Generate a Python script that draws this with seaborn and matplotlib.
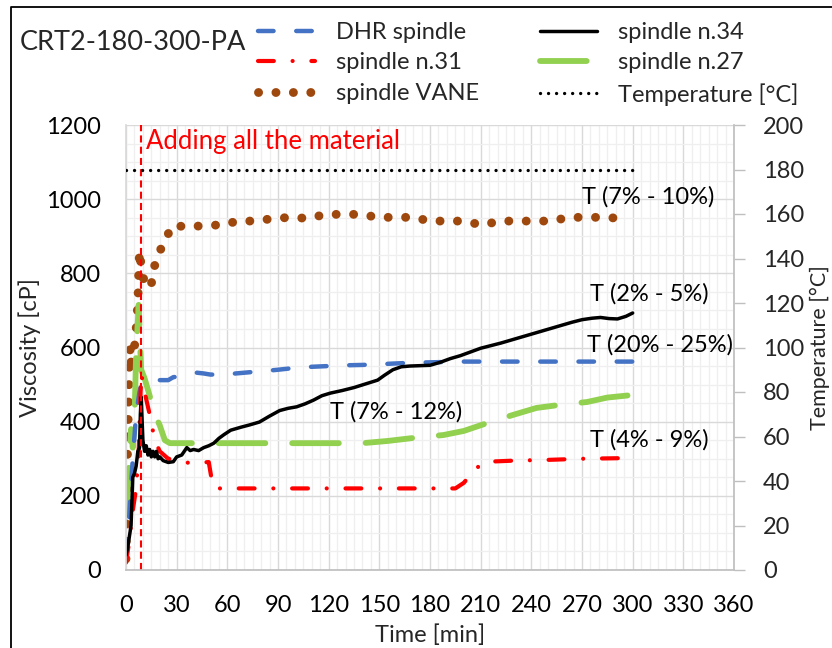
import numpy as np
import pandas as pd
import matplotlib
matplotlib.use("Agg")
import matplotlib.pyplot as plt
from matplotlib.lines import Line2D
from matplotlib.ticker import MultipleLocator
import seaborn as sns

# ---------------- data ----------------
dhr_t = [0, 2, 4, 6, 8, 9, 10, 12, 15, 20, 25, 28, 32, 38, 42, 46, 50, 55, 60, 70, 80, 90,
         100, 110, 120, 130, 140, 150, 160, 170, 180, 190, 200, 220, 240, 260, 280, 300]
dhr_v = [40, 150, 300, 420, 480, 500, 505, 505, 508, 512, 512, 520, 522, 528, 532, 530, 527,
         527, 528, 532, 536, 540, 545, 548, 550, 552, 553, 555, 557, 559, 560, 561, 562, 562,
         562, 562, 562, 562]

s34_t = [0, 1, 2, 3, 4, 5, 6, 7, 8, 8.5, 9, 10, 11, 12, 13, 14, 15, 16, 17, 18, 19, 20, 22,
         25, 28, 30, 33, 36, 38, 40, 43, 46, 49, 52, 55, 58, 62, 68, 73, 79, 85, 91, 96, 101,
         106, 111, 116, 121, 128, 135, 142, 149, 153, 158, 163, 168, 174, 180, 186, 192, 198,
         204, 210, 216, 222, 228, 234, 240, 246, 252, 258, 264, 270, 276, 281, 286, 291, 296, 300]
s34_v = [40, 60, 90, 120, 250, 260, 280, 320, 330, 420, 466, 350, 320, 335, 310, 325, 305,
         320, 305, 320, 300, 305, 295, 290, 292, 305, 310, 330, 322, 325, 322, 330, 335, 342,
         355, 365, 377, 385, 391, 399, 415, 430, 436, 440, 448, 458, 470, 477, 484, 492, 502,
         512, 525, 540, 548, 550, 551, 552, 560, 570, 578, 588, 598, 605, 612, 620, 628, 636,
         644, 652, 660, 668, 675, 679, 681, 678, 677, 684, 693]

s31_t = [0, 2, 4, 6, 7.5, 9, 11, 14, 17, 20, 25, 30, 38, 45, 49, 50.5, 52, 55, 100, 150, 195,
         200, 205, 210, 214, 230, 250, 270, 285, 300]
s31_v = [20, 80, 160, 220, 320, 530, 480, 420, 350, 320, 300, 296, 288, 290, 291, 250, 222,
         220, 220, 220, 220, 235, 262, 285, 292, 295, 297, 300, 301, 302]

s27_t = [0, 1, 2, 3, 4, 5, 6, 7.5, 8.5, 9, 11, 14, 17, 20, 23, 26, 60, 100, 140, 155, 170,
         188, 200, 215, 229, 243, 258, 273, 285, 300]
s27_v = [150, 220, 300, 380, 330, 400, 585, 715, 590, 540, 517, 470, 420, 390, 350, 342, 342,
         342, 342, 348, 356, 364, 375, 398, 418, 437, 446, 453, 465, 472]

vane_t = [0, 0.5, 1, 1.5, 2, 2.5, 3, 4, 5, 6, 7, 7.5, 8, 9, 10, 11, 13, 15, 16, 19.5, 23.5,
          28, 37, 47, 57, 66, 77, 87, 98, 108, 118, 128, 139, 149, 160, 170, 180, 190, 200,
          211, 221, 241, 252, 262, 273, 283, 294]
vane_v = [30, 200, 350, 450, 550, 600, 560, 580, 600, 650, 720, 800, 860, 820, 800, 765, 763,
          770, 808, 854, 895, 930, 924, 930, 930, 941, 941, 948, 951, 948, 959, 959, 959, 951,
          951, 951, 941, 941, 941, 930, 941, 941, 941, 951, 951, 951, 948]

temp_t = [0, 300]
temp_v = [180, 180]

add_time = 9
annotations = [("T (7% - 10%)", 270, 1005),
               ("T (2% - 5%)", 274.5, 744),
               ("T (20% - 25%)", 273, 606),
               ("T (7% - 12%)", 120.5, 426),
               ("T (4% - 9%)", 274.5, 350)]

x_ticks = list(range(0, 361, 30))

# ---------------- style ----------------
sns.set_theme(style="white")
plt.rcParams['font.family'] = ['Lato', 'DejaVu Sans']
FS = 17

C_BLUE = "#4472C4"
C_RED = "#FF0000"
C_GREEN = "#92D050"
C_BROWN = "#9E480E"
C_BLACK = "#000000"

st_blue = dict(color=C_BLUE, lw=3.2, ls=(0, (3.5, 5.1)), dash_capstyle='round')
st_red = dict(color=C_RED, lw=3.0, ls=(0, (3.8, 4.5, 0.01, 4.5)), dash_capstyle='round')
st_green = dict(color=C_GREEN, lw=4.2, ls=(0, (8.0, 4.6)), dash_capstyle='round')
st_black = dict(color=C_BLACK, lw=2.5, ls='-', solid_capstyle='round')
st_brown = dict(color=C_BROWN, lw=6.4, ls=(0, (0.01, 1.95)), dash_capstyle='round')
st_temp = dict(color=C_BLACK, lw=2.4, ls=(0, (0.01, 2.4)), dash_capstyle='round')

fig = plt.figure(figsize=(8.32, 6.48), dpi=100)
ax = fig.add_axes([126/832, 1-570/648, (734-126)/832, (570-125)/648])
ax2 = ax.twinx()

ax.set_xlim(0, 360)
ax.set_ylim(0, 1200)
ax2.set_ylim(0, 200)

ax.xaxis.set_major_locator(MultipleLocator(30))
ax.xaxis.set_minor_locator(MultipleLocator(5))
ax.yaxis.set_major_locator(MultipleLocator(200))
ax.yaxis.set_minor_locator(MultipleLocator(50))
ax2.yaxis.set_major_locator(MultipleLocator(20))

ax.grid(which='major', color='#D9D9D9', lw=1.0)
ax.grid(which='minor', color='#EFEFEF', lw=0.9)
ax.set_axisbelow(True)

def draw(t, v, st, target):
    df = pd.DataFrame({"t": t, "v": v})
    sns.lineplot(data=df, x="t", y="v", ax=target, estimator=None, sort=False,
                 color=st['color'], lw=st['lw'], ls=st['ls'],
                 **{k: val for k, val in st.items() if k.endswith('capstyle')})

draw(vane_t, vane_v, st_brown, ax)
draw(s27_t, s27_v, st_green, ax)
draw(dhr_t, dhr_v, st_blue, ax)
draw(s31_t, s31_v, st_red, ax)
draw(s34_t, s34_v, st_black, ax)
draw(temp_t, temp_v, st_temp, ax2)

ax.axvline(add_time, color=C_RED, lw=1.5, ls=(0, (3.4, 2.0)))
ax.text(add_time + 3, 1155, "Adding all the material", color=C_RED, fontsize=18.5,
        ha='left', va='center')

for txt, tx, ty in annotations:
    ax.text(tx, ty, txt, fontsize=FS, ha='left', va='center', color='black')

ax.set_xticks(x_ticks)
ax.tick_params(axis='both', which='both', length=0, labelsize=FS, colors='black')
ax.tick_params(axis='x', pad=18)
ax.tick_params(axis='y', pad=18)
ax2.tick_params(axis='y', which='major', length=8, width=1.0, color='#BFBFBF',
                labelsize=FS, pad=13, direction='out')
ax2.tick_params(axis='y', which='minor', length=0)

for a in (ax, ax2):
    a.spines['top'].set_visible(False)
ax.spines['left'].set_color('#D9D9D9')
ax.spines['bottom'].set_color('#BFBFBF')
ax.spines['right'].set_visible(False)
ax2.spines['left'].set_visible(False)
ax2.spines['bottom'].set_visible(False)
ax2.spines['right'].set_color('#BFBFBF')

ax.set_xlabel("Time [min]", fontsize=FS)
ax.set_ylabel("Viscosity [cP]", fontsize=FS)
ax2.set_ylabel("Temperature [°C]", fontsize=15.5)
ax.xaxis.set_label_coords(0.5, -0.122)
ax.yaxis.set_label_coords(-0.14, 0.5)
ax2.yaxis.set_label_coords(1.124, 0.5)

# legend
def h(st, label):
    return Line2D([], [], color=st['color'], lw=st['lw'], ls=st['ls'], label=label,
                  **{k: val for k, val in st.items() if k.endswith('capstyle')})

handles = [h(st_blue, "DHR spindle"), h(st_red, "spindle n.31"), h(st_brown, "spindle VANE"),
           h(st_black, "spindle n.34"), h(st_green, "spindle n.27"),
           h(st_temp, "Temperature [°C]")]
fig.legend(handles=handles, ncol=2, loc='upper left',
           bbox_to_anchor=(258/832, 1-22/648), frameon=False, fontsize=FS,
           handlelength=2.4, handletextpad=0.9, columnspacing=2.6, labelspacing=0.4,
           borderpad=0, borderaxespad=0)

fig.text(20/832, 1-42/648, "CRT2-180-300-PA", fontsize=19.5, ha='left', va='center')

fig.add_artist(Line2D([11/832, 11/832, 1.0], [0.0, 1-7/648, 1-7/648],
                      transform=fig.transFigure, color='black', lw=1.3))

fig.savefig("out.png", dpi=100)
